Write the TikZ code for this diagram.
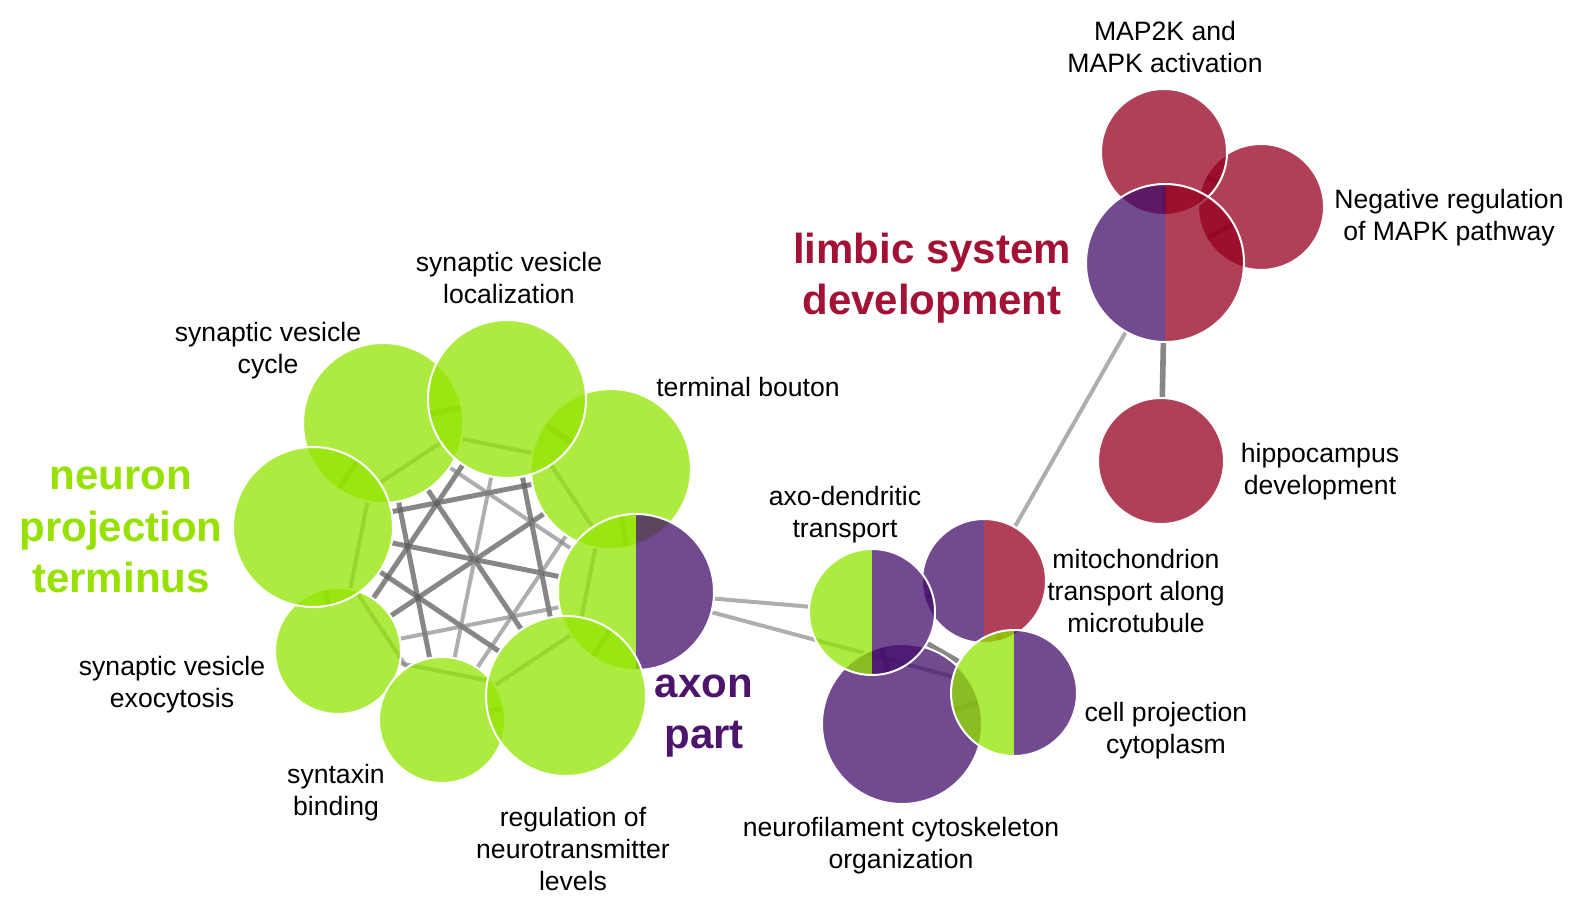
\documentclass[tikz,border=0pt]{standalone}
\usepackage{fontspec}
\setmainfont{Liberation Sans}
\pgfdeclarelayer{edgelayer}
\pgfsetlayers{edgelayer,main}
\definecolor{cg}{RGB}{146,228,0}
\definecolor{cp}{RGB}{67,13,107}
\definecolor{cr}{RGB}{149,0,32}
\definecolor{lg}{RGB}{150,225,0}
\definecolor{lp}{RGB}{76,20,108}
\definecolor{lr}{RGB}{163,18,52}
\definecolor{edk}{RGB}{95,95,95}
\definecolor{elt}{RGB}{130,130,130}
\begin{document}
\begin{tikzpicture}[x=0.5pt,y=-0.5pt,
  bub/.style={circle,inner sep=0pt,minimum size=#1,draw=white,line width=1pt},
  gbub/.style={bub=#1,fill=cg,fill opacity=.75},
  pbub/.style={bub=#1,fill=cp,fill opacity=.75},
  rbub/.style={bub=#1,fill=cr,fill opacity=.75},
  halves/.style 2 args={path picture={
     \fill[#1,fill opacity=.75] (path picture bounding box.south west) rectangle (path picture bounding box.north);
     \fill[#2,fill opacity=.75] (path picture bounding box.south) rectangle (path picture bounding box.north east);}},
  dk/.style={draw=edk,draw opacity=.75,line width=2.5pt},
  lt/.style={draw=elt,draw opacity=.65,line width=2pt},
  lab/.style={font=\fontsize{13.3}{16}\selectfont,align=center,text=black,inner sep=0pt},
  big/.style={font=\fontsize{21}{25.8}\selectfont\bfseries,align=center,inner sep=0pt}]
\useasboundingbox (0,0) rectangle (1572,899);

% ---- top-right cluster
\node[rbub=63pt] (neg) at (1261,207) {};
\node[rbub=63pt] (mapk) at (1164,152) {};
\node[bub=79pt,halves={cp}{cr}] (limb) at (1165,263) {};
\node[rbub=63pt] (hip) at (1161,461) {};

% ---- right cluster
\node[bub=62pt,halves={cp}{cr}] (mito) at (984,581) {};
\node[pbub=80pt] (nfil) at (902,724) {};
\node[bub=63pt,halves={cg}{cp}] (axo) at (872,612) {};
\node[bub=63pt,halves={cg}{cp}] (cpc) at (1014,693) {};

% ---- left cluster
\node[gbub=80pt] (bout) at (611,469) {};
\node[bub=78pt,halves={cg}{cp}] (axon) at (636,592) {};
\node[gbub=63pt] (exo) at (338,651) {};
\node[gbub=63pt] (syn) at (442,720) {};
\node[gbub=80pt] (cyc) at (383,423) {};
\node[gbub=79pt] (loc) at (507,399) {};
\node[gbub=80pt] (npt) at (313,527) {};
\node[gbub=80pt] (reg) at (566,696) {};

% ---- edges
\begin{pgfonlayer}{edgelayer}
\draw[dk] (npt) -- (bout);
\draw[dk] (cyc) -- (reg);
\draw[dk] (exo) -- (loc);
\draw[dk] (loc) -- (reg);
\draw[dk] (bout) -- (exo);
\draw[dk] (npt) -- (axon);
\draw[dk] (npt) -- (reg);
\draw[dk] (cyc) -- (syn);
\draw[lt] (cyc) -- (axon);
\draw[lt] (loc) -- (syn);
\draw[lt] (bout) -- (syn);
\draw[lt] (exo) -- (axon);
\draw[dk] (cyc) -- (loc);
\draw[dk] (loc) -- (bout);
\draw[dk] (bout) -- (axon);
\draw[dk] (axon) -- (reg);
\draw[dk] (reg) -- (syn);
\draw[dk] (syn) -- (exo);
\draw[dk] (exo) -- (npt);
\draw[dk] (npt) -- (cyc);
\draw[lt] (cyc) -- (bout);
\draw[lt] (npt) -- (loc);
\draw[lt] (cyc) -- (exo);
\draw[lt] (loc) -- (axon);
\draw[lt] (bout) -- (reg);
\draw[lt] (exo) -- (reg);
\draw[lt] (npt) -- (syn);
\draw[lt] (syn) -- (axon);
\draw[lt] (axon) -- (axo);
\draw[lt] (axon) -- (cpc);
\draw[dk] (axo) -- (cpc);
\draw[dk] (axo) -- (mito);
\draw[dk] (axo) -- (nfil);
\draw[dk] (nfil) -- (cpc);
\draw[dk] (mito) -- (cpc);
\draw[lt] (mito) -- (limb);
\draw[dk,line width=2.8pt] (limb) -- (hip);
\draw[dk] (limb) -- (mapk);
\draw[dk] (limb) -- (neg);
\draw[dk] (mapk) -- (neg);
\end{pgfonlayer}

% ---- labels
\node[lab] (tmapk) at (1165,47) {MAP2K and\\MAPK activation};
\node[lab] (tneg) at (1449,218) {Negative regulation\\of MAPK pathway};
\node[big,text=lr] (tlimb) at (932,278) {limbic system\\development};
\node[lab] (tloc) at (509,278) {synaptic vesicle\\localization};
\node[lab] (tcyc) at (268,351) {synaptic vesicle\\cycle};
\node[lab] (tbout) at (748,387) {terminal bouton};
\node[big,text=lg] (tnpt) at (121,530) {neuron\\projection\\terminus};
\node[lab] (thip) at (1320,472) {hippocampus\\development};
\node[lab] (taxo) at (845,515) {axo-dendritic\\transport};
\node[lab] (tmito) at (1136,591) {mitochondrion\\transport along\\microtubule};
\node[lab] (texo) at (172,685) {synaptic vesicle\\exocytosis};
\node[big,text=lp] (taxon) at (704,716) {axon\\part};
\node[lab] (tcpc) at (1166,731) {cell projection\\cytoplasm};
\node[lab] (tsyn) at (336,793) {syntaxin\\binding};
\node[lab] (treg) at (573,849) {regulation of\\neurotransmitter\\levels};
\node[lab] (tnfil) at (901,846) {neurofilament cytoskeleton\\organization};
\end{tikzpicture}
\end{document}
